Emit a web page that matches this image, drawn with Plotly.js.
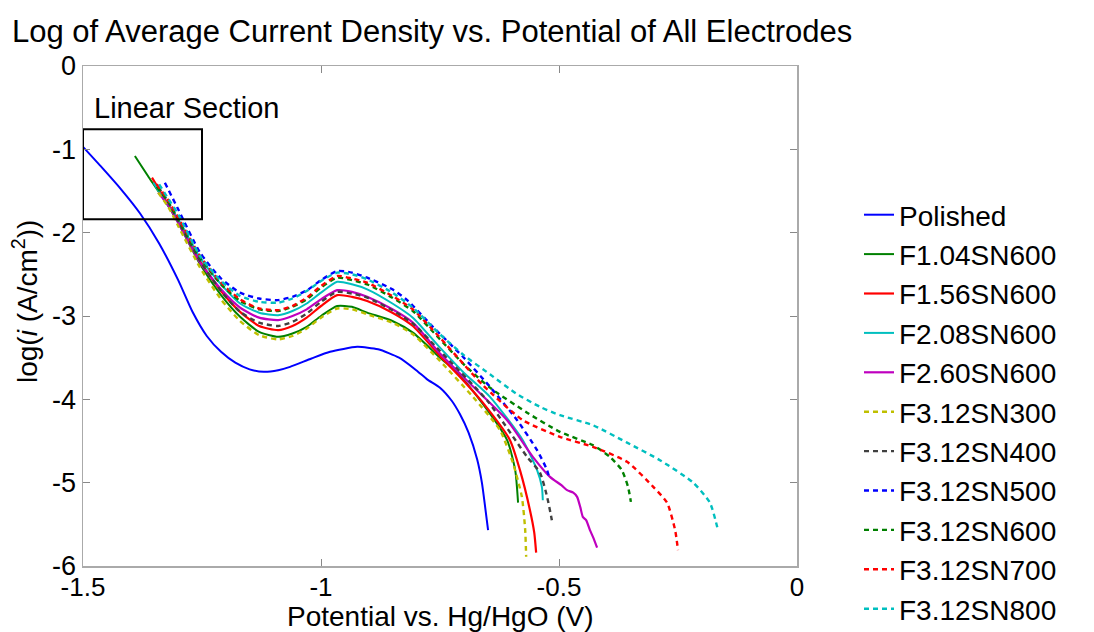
<!DOCTYPE html>
<html>
<head>
<meta charset="utf-8">
<script src="https://cdn.plot.ly/plotly-3.0.1.min.js"></script>
<style>html,body{margin:0;padding:0;background:#fff;}#chart{width:1094px;height:632px;}</style>
</head>
<body>
<div id="chart"></div>
<script>
// ---- Data ----
const seriesNames = ["Polished","F1.04SN600","F1.56SN600","F2.08SN600","F2.60SN600","F3.12SN300","F3.12SN400","F3.12SN500","F3.12SN600","F3.12SN700","F3.12SN800"];

const polishedX = [-1.5,-1.46,-1.42,-1.38,-1.34,-1.30,-1.27,-1.24,-1.21,-1.18,-1.15,-1.12,-1.09,-1.065,-1.02,-0.981,-0.924,-0.88,-0.836,-0.80,-0.777,-0.750,-0.725,-0.708,-0.69,-0.672,-0.662,-0.655,-0.649];
const polishedY = [-0.97,-1.22,-1.48,-1.77,-2.13,-2.57,-2.95,-3.24,-3.43,-3.56,-3.64,-3.67,-3.65,-3.61,-3.51,-3.43,-3.37,-3.40,-3.50,-3.65,-3.76,-3.86,-4.02,-4.18,-4.40,-4.72,-5.00,-5.30,-5.57];

const f104X = [-1.391,-1.36,-1.33,-1.30,-1.254,-1.21,-1.17,-1.13,-1.09,-1.06,-1.03,-1.00,-0.966,-0.935,-0.903,-0.85,-0.807,-0.75,-0.714,-0.666,-0.609,-0.592,-0.586];
const f104Y = [-1.08,-1.35,-1.60,-1.88,-2.38,-2.75,-3.01,-3.19,-3.25,-3.21,-3.13,-3.00,-2.88,-2.89,-2.96,-3.06,-3.20,-3.50,-3.68,-4.01,-4.49,-4.85,-5.24];

const f156X = [-1.355,-1.33,-1.30,-1.254,-1.21,-1.17,-1.13,-1.09,-1.06,-1.03,-1.00,-0.966,-0.935,-0.903,-0.85,-0.807,-0.75,-0.70,-0.660,-0.603,-0.582,-0.561,-0.552,-0.548];
const f156Y = [-1.34,-1.58,-1.86,-2.34,-2.70,-2.95,-3.12,-3.17,-3.12,-3.02,-2.88,-2.75,-2.77,-2.82,-2.96,-3.12,-3.48,-3.78,-4.04,-4.49,-4.85,-5.33,-5.60,-5.84];

const f208X = [-1.352,-1.33,-1.30,-1.254,-1.21,-1.17,-1.13,-1.09,-1.06,-1.03,-1.00,-0.966,-0.935,-0.903,-0.85,-0.807,-0.75,-0.70,-0.645,-0.576,-0.546,-0.536,-0.534];
const f208Y = [-1.40,-1.60,-1.84,-2.30,-2.62,-2.85,-2.96,-2.99,-2.94,-2.85,-2.72,-2.59,-2.62,-2.68,-2.85,-3.02,-3.38,-3.68,-3.97,-4.49,-4.85,-5.05,-5.21];

const f260X = [-1.342,-1.32,-1.30,-1.254,-1.21,-1.17,-1.13,-1.09,-1.06,-1.03,-1.00,-0.966,-0.935,-0.903,-0.85,-0.807,-0.75,-0.68,-0.609,-0.555,-0.519,-0.495,-0.483,-0.47,-0.462,-0.455,-0.450,-0.443,-0.435,-0.428,-0.420];
const f260Y = [-1.52,-1.68,-1.88,-2.36,-2.68,-2.90,-3.02,-3.05,-3.00,-2.92,-2.80,-2.69,-2.71,-2.77,-2.92,-3.08,-3.45,-3.85,-4.25,-4.69,-4.93,-5.03,-5.09,-5.12,-5.17,-5.30,-5.41,-5.45,-5.57,-5.66,-5.78];

const s300X = [-1.342,-1.32,-1.30,-1.254,-1.21,-1.17,-1.13,-1.09,-1.06,-1.03,-1.00,-0.966,-0.935,-0.903,-0.85,-0.807,-0.75,-0.681,-0.624,-0.597,-0.578,-0.571,-0.569];
const s300Y = [-1.52,-1.70,-1.92,-2.42,-2.80,-3.06,-3.23,-3.28,-3.24,-3.15,-3.02,-2.91,-2.92,-2.98,-3.08,-3.22,-3.54,-3.97,-4.37,-4.76,-5.17,-5.57,-5.89];

const s400X = [-1.342,-1.32,-1.30,-1.254,-1.21,-1.17,-1.13,-1.09,-1.06,-1.03,-1.00,-0.966,-0.935,-0.903,-0.85,-0.807,-0.75,-0.65,-0.567,-0.540,-0.525,-0.515];
const s400Y = [-1.45,-1.64,-1.86,-2.34,-2.70,-2.95,-3.08,-3.12,-3.07,-2.97,-2.83,-2.71,-2.73,-2.78,-2.93,-3.09,-3.42,-4.02,-4.69,-4.88,-5.17,-5.45];

const s500X = [-1.328,-1.30,-1.254,-1.21,-1.17,-1.13,-1.092,-1.06,-1.029,-1.00,-0.966,-0.935,-0.903,-0.85,-0.819,-0.765,-0.70,-0.645,-0.588,-0.546,-0.525,-0.52];
const s500Y = [-1.40,-1.72,-2.24,-2.55,-2.72,-2.79,-2.81,-2.77,-2.69,-2.57,-2.46,-2.48,-2.54,-2.68,-2.81,-3.13,-3.50,-3.85,-4.25,-4.61,-4.85,-4.95];

const s600X = [-1.345,-1.32,-1.30,-1.254,-1.21,-1.17,-1.13,-1.09,-1.06,-1.03,-1.00,-0.966,-0.935,-0.903,-0.85,-0.807,-0.75,-0.70,-0.645,-0.567,-0.498,-0.429,-0.393,-0.368,-0.355,-0.349];
const s600Y = [-1.45,-1.64,-1.84,-2.30,-2.62,-2.82,-2.92,-2.94,-2.89,-2.80,-2.66,-2.54,-2.57,-2.62,-2.78,-2.94,-3.28,-3.58,-3.86,-4.16,-4.39,-4.55,-4.69,-4.85,-5.05,-5.23];

const s700X = [-1.345,-1.32,-1.30,-1.254,-1.21,-1.17,-1.13,-1.09,-1.06,-1.03,-1.00,-0.966,-0.935,-0.903,-0.85,-0.807,-0.75,-0.70,-0.660,-0.576,-0.498,-0.429,-0.357,-0.302,-0.273,-0.256,-0.250];
const s700Y = [-1.42,-1.62,-1.82,-2.28,-2.60,-2.80,-2.91,-2.93,-2.88,-2.78,-2.64,-2.52,-2.55,-2.60,-2.76,-2.92,-3.26,-3.58,-3.83,-4.25,-4.45,-4.57,-4.75,-5.05,-5.24,-5.57,-5.81];

const s800X = [-1.34,-1.32,-1.30,-1.254,-1.21,-1.17,-1.13,-1.09,-1.06,-1.03,-1.00,-0.966,-0.935,-0.903,-0.85,-0.807,-0.75,-0.70,-0.645,-0.59,-0.540,-0.498,-0.429,-0.357,-0.288,-0.218,-0.183,-0.166];
const s800Y = [-1.42,-1.60,-1.78,-2.28,-2.58,-2.76,-2.83,-2.84,-2.79,-2.70,-2.58,-2.48,-2.50,-2.56,-2.72,-2.90,-3.22,-3.47,-3.70,-3.93,-4.09,-4.19,-4.31,-4.52,-4.73,-5.00,-5.24,-5.57];

const xTickVals = [-1.5,-1,-0.5,0];
const xTickText = ["-1.5","-1","-0.5","0"];
const yTickVals = [0,-1,-2,-3,-4,-5,-6];
const yTickText = ["0","-1","-2","-3","-4","-5","-6"];

// ---- Styles ----
const seriesX = [polishedX,f104X,f156X,f208X,f260X,s300X,s400X,s500X,s600X,s700X,s800X];
const seriesY = [polishedY,f104Y,f156Y,f208Y,f260Y,s300Y,s400Y,s500Y,s600Y,s700Y,s800Y];
const colors = ["#0000ff","#008000","#ff0000","#00bfbf","#bf00bf","#bfbf00","#404040","#0000ff","#008000","#ff0000","#00bfbf"];
const dashes = ["solid","solid","solid","solid","solid","5px,4px","5px,4px","5px,4px","5px,4px","5px,4px","5px,4px"];
const widths = [2,2,2.2,2,2.2,2.4,2.4,2.4,2.4,2.4,2.4];

const traces = seriesNames.map((n,i)=>({
  type:"scatter", mode:"lines", name:n,
  x:seriesX[i], y:seriesY[i],
  line:{color:colors[i], dash:dashes[i], width:widths[i], shape:"spline", smoothing:0.6}
}));

const F = "Liberation Sans, Arial, sans-serif";
const layout = {
  width:1094, height:632,
  margin:{l:83, r:297, t:66, b:66, autoexpand:false},
  paper_bgcolor:"#fff", plot_bgcolor:"#fff",
  font:{family:F, color:"#000", size:28},
  showlegend:true,
  title:{text:"Log of Average Current Density vs. Potential of All Electrodes",
         font:{family:F, size:31, color:"#000"},
         x:12/1094, xref:"container", xanchor:"left",
         y:1-31/632, yref:"container", yanchor:"middle"},
  xaxis:{range:[-1.5,0], tickvals:xTickVals, ticktext:xTickText, automargin:false,
         ticks:"inside", ticklen:7, tickcolor:"#888", tickwidth:1,
         showline:true, linecolor:"#aaa", linewidth:1.5, mirror:"ticks",
         showgrid:false, zeroline:false, tickfont:{family:F, size:26, color:"#000"},
         ticklabelstandoff:-3},
  yaxis:{range:[-6,0], tickvals:yTickVals, ticktext:yTickText, automargin:false,
         ticks:"inside", ticklen:7, tickcolor:"#888", tickwidth:1,
         showline:true, linecolor:"#aaa", linewidth:1.5, mirror:"ticks",
         showgrid:false, zeroline:false, tickfont:{family:F, size:27, color:"#000"}},
  legend:{x:(859-83)/714, xanchor:"left", y:1-(190-66)/500, yanchor:"top",
          font:{family:F, size:28, color:"#000"}, tracegroupgap:0,
          bgcolor:"rgba(0,0,0,0)", borderwidth:0, itemwidth:30, maxheight:1},
  shapes:[{type:"rect", xref:"x", yref:"y", x0:-1.5, x1:-1.25, y0:-0.76, y1:-1.84,
           line:{color:"#000", width:2}}],
  annotations:[
    {text:"Linear Section", xref:"x", yref:"y", x:-1.482, y:-0.5, xanchor:"left", yanchor:"middle",
     showarrow:false, font:{family:F, size:29, color:"#000"}},
    {text:"Potential vs. Hg/HgO (V)", xref:"paper", yref:"paper", x:0.5, y:-(616-566)/500,
     xanchor:"center", yanchor:"middle", showarrow:false,
     font:{family:F, size:28, color:"#000"}},
    {text:"log(<i>i</i> (A/cm<sup>2</sup>))", xref:"paper", yref:"paper", x:(25-83)/714, y:1-(302-66)/500,
     xanchor:"center", yanchor:"middle", textangle:-90, showarrow:false,
     font:{family:F, size:28, color:"#000"}}
  ]
};
Plotly.newPlot("chart", traces, layout, {displayModeBar:false, staticPlot:true});
</script>
</body>
</html>
